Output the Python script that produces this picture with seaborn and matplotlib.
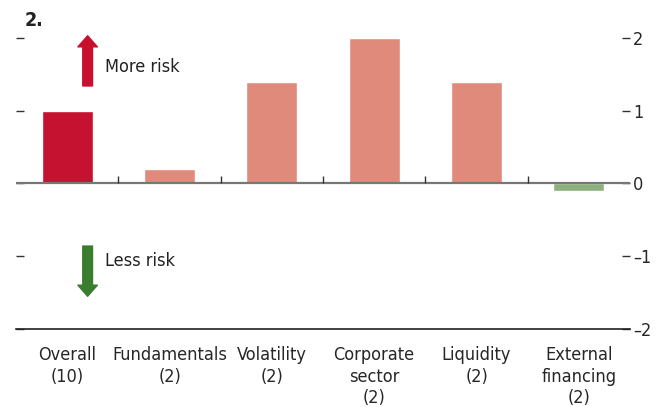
import pandas as pd
import matplotlib.pyplot as plt
import seaborn as sns
import numpy as np

categories = ['Overall\n(10)', 'Fundamentals\n(2)', 'Volatility\n(2)',
              'Corporate\nsector\n(2)', 'Liquidity\n(2)', 'External\nfinancing\n(2)']
values = [1.0, 0.2, 1.4, 2.0, 1.4, -0.1]
bar_colors = ['#C41230', '#E08A7C', '#E08A7C', '#E08A7C', '#E08A7C', '#8DB07F']
y_ticks = [-2, -1, 0, 1, 2]
y_tick_labels = ['\u20132', '\u20131', '0', '1', '2']

sns.set_style('white')
plt.rcParams['font.family'] = ['DejaVu Sans']
plt.rcParams['font.stretch'] = 'condensed'
plt.rcParams['text.color'] = '#222222'

df = pd.DataFrame({'cat': categories, 'val': values})

fig = plt.figure(figsize=(6.56, 4.07), dpi=100)
ax = fig.add_axes([0.0244, 0.1916, 0.9360, 0.742])

sns.barplot(data=df, x='cat', y='val', hue='cat', palette=bar_colors,
            width=0.5, legend=False, ax=ax, saturation=1)

ax.set_xlim(-0.5, len(categories) - 0.5)
ax.set_ylim(-2, 2.15)

# zero line and category separators
ax.axhline(0, color='#777777', lw=1.6, zorder=1)
ax.vlines(np.arange(len(categories) - 1) + 0.5, 0, 0.1, color='#333333', lw=1)

for s in ['top', 'left', 'right']:
    ax.spines[s].set_visible(False)
ax.spines['bottom'].set_color('#222222')
ax.spines['bottom'].set_linewidth(1.2)

ax.set_yticks(y_ticks)
ax.set_yticklabels(y_tick_labels)
ax.tick_params(axis='y', left=True, right=True, labelleft=False, labelright=True,
               direction='in', length=6, width=1, color='#333333', pad=2,
               labelsize=13)
ax.tick_params(axis='x', bottom=False, labelsize=13, pad=9)
for lab in ax.get_xticklabels():
    lab.set_linespacing(1.25)
ax.set_xlabel('')
ax.set_ylabel('')

# risk arrows
ax.annotate('', xy=(0.2, 2.03), xytext=(0.2, 1.34),
            arrowprops=dict(arrowstyle='simple,head_width=14,head_length=8,tail_width=7',
                            mutation_scale=1, color='#C8102E', shrinkA=0, shrinkB=0))
ax.annotate('', xy=(0.2, -1.55), xytext=(0.2, -0.86),
            arrowprops=dict(arrowstyle='simple,head_width=14,head_length=8,tail_width=7',
                            mutation_scale=1, color='#3A7D2F', shrinkA=0, shrinkB=0))
ax.text(0.37, 1.6, 'More risk', fontsize=13, va='center', ha='left')
ax.text(0.37, -1.07, 'Less risk', fontsize=13, va='center', ha='left')

fig.text(0.038, 0.95, '2.', fontsize=14, fontweight='bold', va='center', ha='left')

plt.savefig('out.png', dpi=100)
